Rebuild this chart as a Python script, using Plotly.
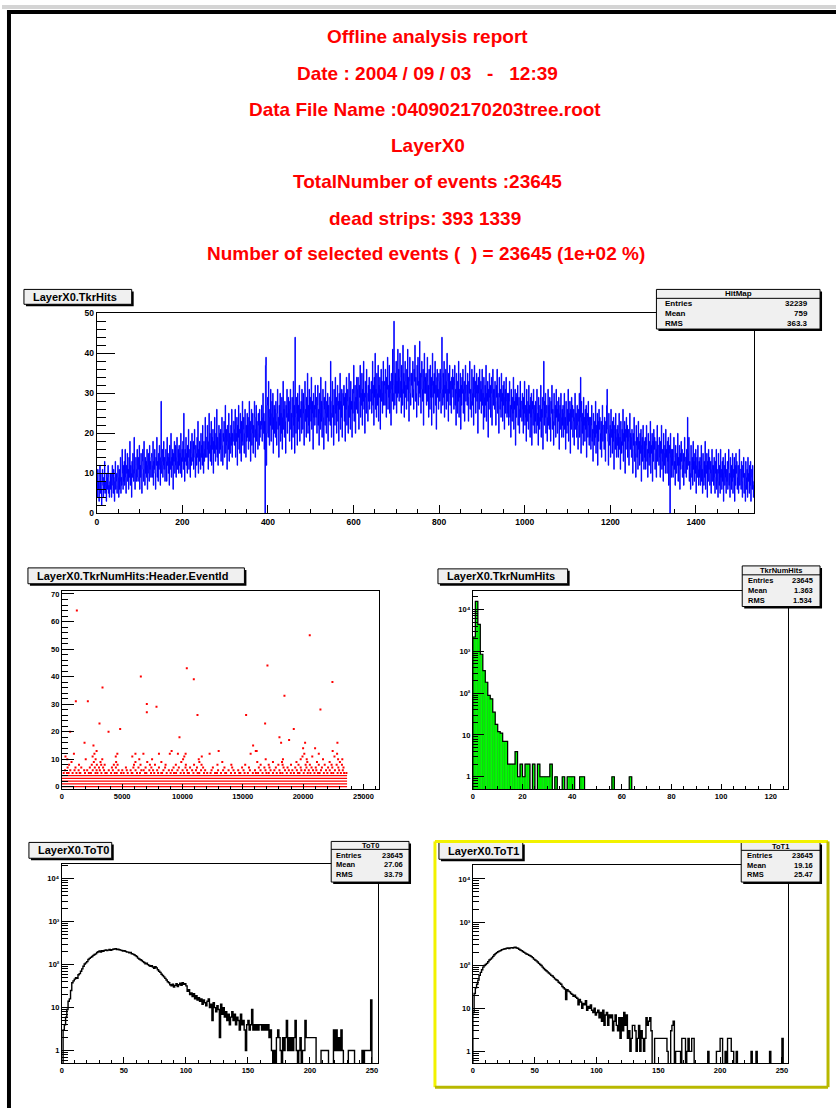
import numpy as np
import plotly.graph_objects as go

W, H = 836, 1113
def X(p): return p / W
def Y(p): return 1 - p / H

# ---------------- header text ----------------
header_lines = [
    "Offline analysis report",
    "Date : 2004 / 09 / 03 \u00a0 - \u00a0 12:39",
    "Data File Name :040902170203tree.root",
    "LayerX0",
    "TotalNumber of events :23645",
    "dead strips: 393 1339",
    "Number of selected events (\u00a0\u00a0) = 23645 (1e+02 %)",
]

# ---------------- HitMap (strip 0..1535) ----------------
hitmap_counts = [
 9,4,11,6,8,3,7,12,5,10,6,2,8,11,7,4,9,6,13,5,8,7,3,10,6,9,12,5,7,4,8,10,
 6,10,4,9,12,7,5,11,8,3,9,13,6,8,10,5,7,12,9,4,11,6,8,14,5,9,7,16,10,6,12,8,
 13,7,16,9,5,12,10,15,8,11,6,14,9,18,7,12,10,4,13,9,15,11,8,19,10,6,12,14,8,11,16,9,
 8,14,11,17,6,12,9,15,10,5,13,16,11,8,18,12,7,14,10,13,9,16,6,12,15,10,8,17,11,13,9,14,
 15,9,12,18,7,13,11,16,10,6,14,12,19,9,13,8,15,11,17,12,7,14,28,10,13,16,9,12,18,11,14,8,
 11,16,13,8,19,12,15,10,14,7,17,13,11,20,9,14,12,16,6,15,13,18,10,12,17,9,14,19,11,13,16,10,
 17,12,15,10,20,14,9,16,13,18,11,25,14,8,16,13,19,12,15,10,17,14,21,11,13,16,9,18,14,12,20,15,
 13,18,11,16,21,14,9,17,15,12,19,14,23,10,16,13,18,15,11,20,14,17,12,22,15,10,18,13,16,24,14,19,
 19,14,22,16,11,18,25,15,20,13,17,23,12,19,16,21,10,18,15,24,17,13,20,16,26,14,19,12,18,22,15,20,
 16,21,13,19,24,17,12,20,18,23,14,19,27,15,21,17,11,22,18,16,25,13,20,19,15,22,17,26,14,20,18,23,
 23,17,21,26,14,20,18,24,12,22,19,27,16,21,15,25,20,13,23,18,28,17,21,24,15,20,26,19,14,22,18,25,
 19,24,16,22,28,18,23,13,21,26,17,20,25,15,22,19,28,24,14,21,27,18,23,20,16,25,22,17,26,19,23,21,
 22,27,18,24,30,20,25,16,23,0,37,39,12,20,27,29,19,33,24,17,26,22,31,18,25,28,21,30,15,24,27,20,
 26,19,28,23,17,25,31,21,24,14,27,22,30,18,25,20,29,16,24,33,21,26,19,28,23,15,27,24,31,20,25,29,
 23,28,18,26,31,21,25,16,29,24,19,33,22,27,15,44,24,20,29,25,17,30,23,27,21,32,18,26,24,28,20,31,
 28,21,30,25,17,27,33,23,26,19,29,24,35,20,27,22,31,18,26,29,23,34,21,28,25,16,30,24,27,22,32,26,
 24,29,20,27,32,22,26,17,30,25,21,34,23,28,19,27,31,24,16,29,26,22,33,25,20,28,24,30,18,27,23,29,
 29,22,38,25,19,28,33,24,27,17,31,26,22,34,25,29,20,27,32,23,28,18,30,26,35,21,28,24,31,19,27,30,
 27,32,23,29,18,30,26,34,22,28,31,20,27,35,24,29,21,33,26,28,19,31,25,30,37,23,28,32,20,29,26,34,
 31,25,34,28,21,32,29,37,24,30,27,35,22,31,28,38,26,30,20,33,29,25,36,30,27,23,32,28,34,26,31,29,
 28,33,25,30,38,27,32,22,34,29,40,26,31,24,35,30,27,37,23,32,29,34,21,31,36,28,33,25,30,38,27,32,
 33,27,36,30,24,34,31,39,26,32,29,37,25,33,30,22,35,31,28,41,30,26,48,32,27,35,30,38,25,33,29,41,
 30,36,28,34,40,29,33,25,37,31,27,42,30,35,24,33,38,29,32,26,36,31,41,28,34,23,33,39,30,27,35,32,
 35,29,38,31,26,36,33,42,28,34,30,24,37,32,39,27,33,30,43,29,35,25,34,38,31,28,36,22,33,40,30,34,
 30,35,27,33,39,28,32,24,36,31,26,37,29,34,22,32,40,29,33,25,35,30,38,27,32,21,34,36,29,31,26,35,
 33,28,36,30,25,34,44,31,27,35,29,38,24,32,30,36,26,33,40,28,31,23,35,30,37,27,33,29,25,34,31,36,
 29,34,26,32,37,27,31,22,35,30,25,33,28,38,24,31,29,35,21,32,27,34,30,36,25,31,33,23,30,37,28,32,
 32,27,35,29,23,33,30,38,26,31,28,24,36,30,27,34,22,31,37,29,33,25,30,35,28,32,20,34,30,26,36,31,
 28,33,25,31,36,27,30,21,34,29,24,32,27,37,23,30,28,33,19,31,26,35,29,32,24,30,34,22,29,36,27,31,
 31,26,33,28,22,32,29,36,25,30,27,20,34,29,26,31,24,35,28,30,23,32,27,33,21,29,31,25,34,28,24,30,
 25,30,22,28,33,24,27,19,31,26,23,29,25,34,21,28,26,31,17,29,24,30,27,32,22,27,29,20,26,33,24,28,
 28,23,30,26,20,29,25,33,22,27,24,18,31,26,23,28,21,32,25,27,19,29,24,30,17,26,28,22,31,25,20,27,
 23,28,20,26,31,22,25,17,29,24,21,27,23,32,19,26,24,29,16,27,38,22,28,24,30,20,25,27,18,24,31,22,
 27,21,29,24,18,28,25,32,21,26,23,17,30,25,22,27,19,31,24,26,20,28,23,29,16,25,27,21,30,24,19,26,
 22,27,19,25,30,21,24,16,28,23,20,26,22,31,18,25,23,28,15,26,21,29,24,27,19,23,26,17,24,30,21,25,
 25,19,27,22,16,26,23,30,19,24,34,15,28,23,20,25,17,29,22,24,18,26,21,27,14,23,25,19,28,22,17,24,
 19,24,16,22,27,18,21,13,25,20,17,23,19,28,15,22,20,25,12,23,18,26,21,24,16,20,23,14,21,27,18,22,
 22,16,24,19,13,23,20,27,31,21,18,12,25,20,17,22,14,26,19,21,15,23,18,24,11,20,22,16,25,19,14,21,
 17,22,14,20,25,16,19,11,23,18,15,21,17,26,13,20,18,23,10,21,16,24,19,22,14,18,21,12,19,25,16,20,
 19,14,21,16,10,20,17,24,13,18,15,9,22,17,14,19,11,23,16,18,12,20,15,21,8,17,19,13,22,16,11,18,
 14,19,11,17,22,13,16,9,20,15,12,18,14,23,10,17,15,20,8,18,13,21,16,19,11,15,18,9,16,22,13,17,
 17,12,19,14,9,18,15,22,11,16,13,8,20,15,12,17,10,21,14,16,10,18,13,19,7,15,17,0,20,14,9,16,
 12,16,9,14,19,11,13,7,17,12,10,15,12,20,8,14,12,17,6,15,11,18,13,16,9,12,15,7,13,19,10,14,
 14,9,16,11,24,15,12,19,8,13,10,6,17,12,9,14,7,18,11,13,8,15,10,16,5,12,14,9,17,11,7,13,
 9,14,7,12,17,8,11,5,15,10,7,13,9,18,6,12,10,15,4,13,8,16,11,14,7,10,13,5,11,16,8,12,
 12,7,14,9,5,13,10,16,6,11,8,4,15,10,7,12,5,16,9,11,6,13,8,14,3,10,12,7,15,9,5,11,
 8,13,6,11,16,7,10,4,14,9,6,12,8,15,5,11,9,14,3,12,7,15,10,13,6,9,12,5,10,16,7,11,
 11,6,13,8,4,12,9,14,5,10,7,3,13,9,6,11,4,14,8,10,5,12,7,13,3,9,11,6,12,8,4,7,
]
hitmap_stats = [("Entries", "32239"), ("Mean", "759"), ("RMS", "363.3")]

# ---------------- TkrNumHits vs EventId (scatter) ----------------
event_range = [0, 23645]
dense_levels = [0, 1, 2, 3, 4]
sparse_events = {
    5: [150, 420, 560, 890, 1210, 1480, 1530, 1920, 2240, 2410, 2790, 2950, 3280, 3610, 3720, 4080,
        4390, 4550, 4910, 5120, 5460, 5790, 5850, 6230, 6480, 6900, 7010, 7390, 7660, 7980, 8240,
        8310, 8690, 9020, 9300, 9470, 9850, 10120, 10440, 10530, 10910, 11260, 11390, 11780, 12050,
        12330, 12700, 12860, 13190, 13540, 13620, 14020, 14350, 14710, 14800, 15150, 15420, 15830,
        16090, 16270, 16640, 16960, 17150, 17500, 17820, 18110, 18290, 18650, 18980, 19240, 19570,
        19700, 20050, 20380, 20610, 20940, 21230, 21370, 21720, 22010, 22340, 22500, 22860, 23130,
        23400, 23590],
    6: [260, 700, 1050, 1390, 1850, 2100, 2560, 2880, 3150, 3500, 3890, 4230, 4700, 5010, 5380, 5700,
        6110, 6590, 6780, 7250, 7560, 7900, 8420, 8870, 9140, 9590, 10010, 10380, 10800, 11120, 11540,
        11880, 12410, 12950, 13370, 13820, 14230, 14620, 15060, 15590, 16010, 16470, 16880, 17300,
        17620, 18040, 18500, 18820, 19110, 19480, 19850, 20150, 20470, 20820, 21100, 21480, 21900,
        22210, 22640, 22990, 23290],
    7: [480, 1130, 1610, 2320, 2730, 3080, 3420, 4150, 4480, 5310, 5930, 6350, 6940, 7420, 8050, 8560,
        9260, 9700, 10250, 10630, 11200, 11710, 12520, 13480, 14120, 14940, 15510, 16330, 16790, 17210,
        17740, 18380, 18710, 19350, 19800, 20280, 20700, 21050, 21560, 22070, 22420, 22920, 23350],
    8: [600, 1420, 2480, 2900, 3260, 3550, 4310, 4620, 5980, 6520, 7300, 7720, 8600, 9450, 10280,
        10960, 11580, 12900, 14050, 15200, 16480, 17150, 17950, 18300, 19000, 19620, 20210, 20560,
        21300, 21790, 22360, 22780, 23220],
    9: [800, 2650, 3200, 4500, 6100, 7080, 8250, 9900, 11400, 13300, 16200, 17500, 18250, 19450,
        20350, 21150, 22200, 23050],
    10: [450, 1980, 2800, 3350, 6420, 7480, 10050, 11350, 16900, 18330, 19800, 20300, 21650, 22900, 23250],
    11: [300, 2550, 4470, 5840, 10150, 11600, 19950, 20760, 22600],
    12: [1000, 2700, 4600, 6100, 6760, 8050, 8950, 9620, 10260, 12250, 15650, 20100, 21300, 22820],
    13: [2880, 9100, 13000, 16150, 22450],
}
outlier_events = [1243, 1160, 2155, 3370, 3120, 3870, 4834, 1880, 2620, 690, 6547, 7044, 7044, 7845,
                  10359, 10939, 11243, 9751, 15276, 15856, 16077, 17044, 16851, 18453, 18039, 18177,
                  18840, 19227, 20552, 21436, 22431, 22845, 20166, 20000, 20994]
outlier_values = [64, 31, 31, 36, 23, 20, 21, 16, 15, 20, 40, 30, 27, 29,
                  43, 39, 26, 18, 26, 15, 13, 44, 23, 33, 18, 16,
                  17, 21, 55, 28, 38, 16, 16, 14, 14]

# ---------------- TkrNumHits histogram (bins of width 1, 0..127) ----------------
numhits_counts = [2200, 15600, 4390, 850, 344, 182, 88, 73, 35, 18, 12, 11, 7, 7, 2, 2, 2, 4, 1, 2,
                  1, 2, 2, 0, 2, 0, 2, 1, 1, 1, 1, 2, 0, 1, 0, 0, 1, 0, 1, 1,
                  1, 0, 0, 1, 1, 0, 0, 0, 0, 0, 0, 0, 0, 0, 0, 0, 1, 0, 0, 0,
                  0, 0, 0, 1] + [0] * 63
numhits_stats = [("Entries", "23645"), ("Mean", "1.363"), ("RMS", "1.534")]

# ---------------- ToT0 / ToT1 histograms (bins of width 1, 0..255) ----------------
tot0_counts = [
 0, 3, 4, 6, 9, 14, 16, 25, 38, 42,
 46, 50, 48, 58, 62, 70, 80, 92, 104, 110,
 118, 132, 140, 148, 155, 165, 172, 178, 192, 200,
 208, 196, 212, 205, 215, 220, 212, 218, 225, 216,
 222, 228, 232, 235, 225, 230, 222, 218, 214, 208,
 212, 204, 198, 196, 188, 192, 180, 176, 170, 162,
 155, 142, 136, 130, 125, 118, 112, 105, 108, 100,
 96, 92, 95, 88, 82, 90, 84, 76, 70, 66,
 60, 56, 52, 48, 44, 40, 38, 34, 32, 35,
 30, 33, 36, 31, 34, 37, 33, 38, 35, 36,
 32, 24, 26, 20, 22, 18, 21, 16, 19, 15,
 17, 14, 16, 12, 15, 13, 11, 14, 16, 10,
 12, 5, 13, 10, 8, 11, 9, 2, 12, 7,
 10, 6, 8, 5, 7, 4, 6, 8, 5, 7,
 4, 6, 5, 3, 7, 4, 5, 3, 1, 4,
 5, 3, 4, 9, 3, 4, 3, 4, 3, 4,
 4, 3, 4, 3, 4, 3, 4, 2, 3, 1,
 0, 1, 0, 2, 3, 2, 1, 0, 2, 1,
 2, 5, 1, 2, 1, 2, 1, 2, 5, 1,
 0, 1, 2, 0, 1, 1, 5, 2, 2, 2,
 2, 2, 2, 2, 2, 0, 0, 0, 0, 1,
 1, 1, 1, 1, 1, 0, 0, 0, 0, 3,
 1, 3, 1, 2, 1, 3, 1, 0, 0, 0,
 0, 1, 1, 1, 1, 1, 0, 0, 0, 0,
 0, 0, 1, 0, 1, 1, 1, 1, 1, 15,
 0, 0, 0, 0, 0,
]
tot0_stats = [("Entries", "23645"), ("Mean", "27.06"), ("RMS", "33.79")]

tot1_counts = [
 8, 22, 30, 36, 45, 58, 68, 78, 90, 98,
 104, 110, 120, 132, 138, 148, 160, 175, 185, 195,
 205, 212, 218, 228, 232, 238, 240, 246, 250, 244,
 252, 255, 248, 258, 262, 250, 246, 234, 224, 218,
 208, 198, 190, 182, 178, 170, 165, 158, 150, 138,
 132, 126, 118, 110, 104, 98, 90, 84, 78, 74,
 70, 66, 62, 58, 56, 52, 48, 46, 44, 40,
 38, 36, 32, 30, 28, 16, 27, 25, 24, 22,
 21, 19, 20, 18, 17, 12, 16, 14, 10, 13,
 12, 15, 9, 11, 10, 12, 9, 8, 10, 7,
 8, 9, 6, 8, 5, 9, 4, 7, 8, 4,
 7, 6, 7, 3, 5, 7, 4, 3, 6, 2,
 6, 3, 8, 4, 7, 2, 3, 1, 2, 4,
 4, 3, 1, 2, 4, 1, 3, 2, 1, 2,
 6, 4, 5, 6, 3, 0, 0, 2, 2, 2,
 2, 2, 2, 2, 2, 2, 2, 1, 0, 0,
 3, 4, 5, 0, 1, 1, 1, 1, 0, 2,
 2, 2, 0, 1, 2, 1, 1, 2, 2, 0,
 0, 0, 0, 0, 0, 0, 0, 0, 0, 0,
 1, 0, 0, 0, 0, 0, 0, 1, 1, 1,
 2, 2, 0, 0, 1, 0, 2, 2, 2, 1,
 1, 0, 0, 1, 0, 0, 0, 0, 0, 0,
 0, 0, 0, 0, 0, 1, 0, 0, 0, 1,
 0, 0, 0, 0, 0, 0, 0, 0, 0, 0,
 1, 0, 0, 0, 0, 0, 0, 0, 0, 0,
 2, 0, 0, 0, 0,
]
tot1_stats = [("Entries", "23645"), ("Mean", "19.16"), ("RMS", "25.47")]

# ====================================================================
FONT = "Liberation Sans, Arial, Helvetica, DejaVu Sans, sans-serif"
fig = go.Figure()

def step_xy(counts, floor=None):
    c = np.asarray(counts, dtype=float)
    if floor is not None:
        c = np.where(c > 0, c, floor)
    edges = np.arange(len(c) + 1, dtype=float)
    xs = np.r_[edges[0], edges[:-1], edges[-1], edges[-1]]
    first = floor if floor is not None else c[0]
    ys = np.r_[first, c, c[-1], first]
    return xs, ys

# Panel 1: HitMap
xs, ys = step_xy(hitmap_counts)
fig.add_trace(go.Scatter(x=xs[1:-1], y=ys[1:-1], mode="lines",
                         line=dict(shape="hv", color="#0000ff", width=1.0),
                         xaxis="x", yaxis="y", hoverinfo="skip"))

# Panel 2: scatter
for lv in dense_levels:
    fig.add_trace(go.Scatter(x=event_range, y=[lv, lv], mode="lines",
                             line=dict(color="#ff0000", width=1.2),
                             xaxis="x2", yaxis="y2", hoverinfo="skip"))
sx, sy = [], []
for lv, evs in sparse_events.items():
    sx += evs
    sy += [lv] * len(evs)
sx += outlier_events
sy += outlier_values
fig.add_trace(go.Scatter(x=sx, y=sy, mode="markers",
                         marker=dict(symbol="square", size=2, color="#ff0000", line=dict(width=0)),
                         xaxis="x2", yaxis="y2", hoverinfo="skip"))

# Panel 3: TkrNumHits bars (green fill) + black outline
nh = np.asarray(numhits_counts, dtype=float)
centers = np.arange(len(nh)) + 0.5
fig.add_trace(go.Bar(x=centers[nh > 0], y=nh[nh > 0], width=1.0,
                     marker=dict(color="#00ff00", line=dict(color="#009900", width=0.4)),
                     xaxis="x3", yaxis="y3", hoverinfo="skip"))
xs, ys = step_xy(numhits_counts, floor=1e-3)
fig.add_trace(go.Scatter(x=xs, y=ys, mode="lines",
                         line=dict(shape="hv", color="black", width=1.2),
                         xaxis="x3", yaxis="y3", hoverinfo="skip"))

# Panels 4 & 5: ToT step histograms
for counts, xa, ya in [(tot0_counts, "x4", "y4"), (tot1_counts, "x5", "y5")]:
    xs, ys = step_xy(counts, floor=1e-3)
    fig.add_trace(go.Scatter(x=xs, y=ys, mode="lines",
                             line=dict(shape="hv", color="black", width=1.4),
                             xaxis=xa, yaxis=ya, hoverinfo="skip"))

# ---------------- axes ----------------
def base_axis(dom, rng, anchor, fs, ticklen, **kw):
    d = dict(domain=dom, range=rng, anchor=anchor, showline=True, linecolor="black",
             linewidth=1, mirror=True, ticks="inside", tickcolor="black", ticklen=ticklen,
             tickwidth=1, showgrid=False, zeroline=False, fixedrange=True,
             tickfont=dict(family=FONT, size=fs, color="black", weight="bold"))
    d.update(kw)
    return d

def xdom(a, b): return [X(a), X(b)]
def ydom(a, b): return [Y(b), Y(a)]

def log_minor(lo, hi):
    vals = []
    for d in range(int(np.floor(lo)) - 1, int(np.ceil(hi)) + 1):
        for k in range(2, 10):
            v = k * 10.0 ** d
            if 10 ** lo <= v <= 10 ** hi:
                vals.append(v)
    return vals

log_tv = [1, 10, 100, 1000, 10000]
log_tt = ["1", "10", "10\u00b2", "10\u00b3", "10\u2074"]

layout_axes = dict(
    xaxis=base_axis(xdom(95, 754), [0, 1536], "y", 8.5, 8, dtick=200, tick0=0, tickformat="d",
                    minor=dict(ticks="inside", ticklen=4, dtick=50, tickcolor="black")),
    yaxis=base_axis(ydom(311, 513), [0, 50], "x", 8.5, 18, dtick=10, tick0=0,
                    minor=dict(ticks="inside", ticklen=9, dtick=2, tickcolor="black")),
    xaxis2=base_axis(xdom(60, 378), [0, 26300], "y2", 7.5, 5, dtick=5000, tick0=0, tickformat="d",
                     minor=dict(ticks="inside", ticklen=3, dtick=1000, tickcolor="black")),
    yaxis2=base_axis(ydom(591, 791), [-0.8, 71.2], "x2", 7.5, 12, dtick=10, tick0=0,
                     minor=dict(ticks="inside", ticklen=6, dtick=2, tickcolor="black")),
    xaxis3=base_axis(xdom(472, 788), [0, 127], "y3", 7.5, 5, dtick=20, tick0=0,
                     minor=dict(ticks="inside", ticklen=3, dtick=5, tickcolor="black")),
    yaxis3=base_axis(ydom(591, 791), [-0.29, 4.45], "x3", 7.5, 11, type="log",
                     tickvals=log_tv, ticktext=log_tt,
                     minor=dict(ticks="inside", ticklen=5, tickvals=log_minor(-0.29, 4.45), tickcolor="black")),
    xaxis4=base_axis(xdom(60, 377), [0, 255], "y4", 7.5, 6, dtick=50, tick0=0,
                     minor=dict(ticks="inside", ticklen=3, dtick=10, tickcolor="black")),
    yaxis4=base_axis(ydom(867, 1068), [-0.30, 4.34], "x4", 7.5, 12, type="log",
                     tickvals=log_tv, ticktext=log_tt,
                     minor=dict(ticks="inside", ticklen=6, tickvals=log_minor(-0.30, 4.34), tickcolor="black")),
    xaxis5=base_axis(xdom(472, 788), [0, 255], "y5", 7.5, 6, dtick=50, tick0=0,
                     minor=dict(ticks="inside", ticklen=3, dtick=10, tickcolor="black")),
    yaxis5=base_axis(ydom(868, 1068), [-0.28, 4.32], "x5", 7.5, 12, type="log",
                     tickvals=log_tv, ticktext=log_tt,
                     minor=dict(ticks="inside", ticklen=6, tickvals=log_minor(-0.28, 4.32), tickcolor="black")),
)

shapes = []
annotations = []

def rect(x0, y0, x1, y1, fill=None, line_color=None, lw=1):
    shapes.append(dict(type="rect", xref="paper", yref="paper", x0=X(x0), x1=X(x1), y0=Y(y1), y1=Y(y0),
                       fillcolor=fill if fill else "rgba(0,0,0,0)",
                       line=dict(color=line_color if line_color else "rgba(0,0,0,0)", width=lw),
                       layer="above"))

def hline(x0, x1, y, color="black", lw=1):
    shapes.append(dict(type="line", xref="paper", yref="paper", x0=X(x0), x1=X(x1), y0=Y(y), y1=Y(y),
                       line=dict(color=color, width=lw), layer="above"))

def vline(x, y0, y1, color="black", lw=1):
    shapes.append(dict(type="line", xref="paper", yref="paper", x0=X(x), x1=X(x), y0=Y(y0), y1=Y(y1),
                       line=dict(color=color, width=lw), layer="above"))

def text(x, y, s, size, color="black", xanchor="left", bold=True):
    annotations.append(dict(xref="paper", yref="paper", x=X(x), y=Y(y), text=s, showarrow=False,
                            xanchor=xanchor, yanchor="middle",
                            font=dict(family=FONT, size=size, color=color, weight="bold" if bold else "normal")))

# page border
rect(0, 0, 836, 4, fill="#d4d4d4")
rect(5, 5, 836, 9, fill="black")
rect(5, 5, 9, 1113, fill="black")

# header
header_x = [427, 427, 424, 427, 427, 424, 425]
header_y = [32, 69, 105, 142, 178, 215, 251]
for s, hx, hy in zip(header_lines, header_x, header_y):
    text(hx, hy, s, 19, color="#ff0000", xanchor="center")

# title boxes
def title_box(x0, y0, x1, y1, s):
    rect(x0 + 2, y0 + 2, x1 + 2, y1 + 2, fill="black")
    rect(x0, y0, x1, y1, fill="#f0f0f0", line_color="black")
    text(x0 + 7, (y0 + y1) / 2, s, 11)

title_box(22, 287, 130, 302, "LayerX0.TkrHits")
title_box(26, 568, 243, 584, "LayerX0.TkrNumHits:Header.EventId")
title_box(437, 569, 567, 584, "LayerX0.TkrNumHits")
title_box(27, 845, 110, 861, "LayerX0.ToT0")
title_box(438, 845, 522, 862, "LayerX0.ToT1")

# stats boxes
def stats_box(x0, y0, x1, y1, title, rows, div, row_y, lx, rx, fs=7.5):
    rect(x0 + 2, y0 + 2, x1 + 2, y1 + 2, fill="black")
    rect(x0, y0, x1, y1, fill="#f0f0f0", line_color="black")
    hline(x0, x1, div)
    text((x0 + x1) / 2, (y0 + div) / 2, title, fs, xanchor="center")
    for (lab, val), ry in zip(rows, row_y):
        text(lx, ry, lab, fs)
        text(rx, ry, val, fs, xanchor="right")

stats_box(656, 287, 820, 327, "HitMap", hitmap_stats, 296, [301, 311, 321], 663, 810, 8)
stats_box(742, 566, 820, 607, "TkrNumHits", numhits_stats, 575, [580.5, 590.5, 600.5], 746, 815)
stats_box(330, 844, 408, 885, "ToT0", tot0_stats, 852, [858, 867.5, 877], 333, 404)
stats_box(741, 845, 820, 885, "ToT1", tot1_stats, 853, [858.5, 868, 877.5], 745, 815)

# highlighted pad frame (yellow)
hline(434, 828, 844, color="#f2f200", lw=3)
vline(434, 844, 1092, color="#f2f200", lw=3)
hline(434, 828, 1092, color="#b8b800", lw=3)
vline(828, 844, 1092, color="#b8b800", lw=3)

fig.update_layout(
    width=W, height=H, margin=dict(l=0, r=0, t=0, b=0),
    paper_bgcolor="white", plot_bgcolor="white", showlegend=False,
    bargap=0, shapes=shapes, annotations=annotations,
    **layout_axes,
)

fig.write_html("out.html",
               config={"displayModeBar": False, "staticPlot": True},
               post_script="document.body.style.margin='0px';document.body.style.padding='0px';"
                           "document.documentElement.style.overflow='hidden';")
